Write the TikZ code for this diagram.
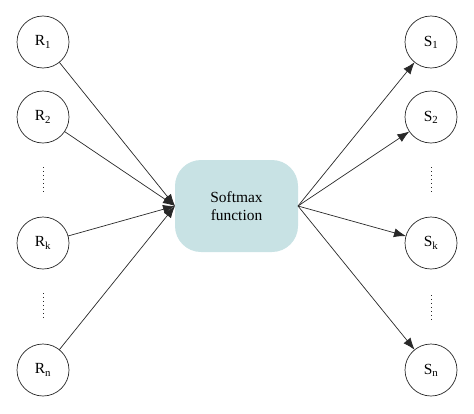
\documentclass[tikz,border=0pt]{standalone}
\usepackage{fontspec}
\setmainfont{Liberation Serif}
\usepackage{amsmath, amssymb}
\usepackage{tkz-graph}
\usetikzlibrary{arrows.meta}
\usetikzlibrary{shapes}
\definecolor{softFill}{RGB}{200,226,228}
\definecolor{lineGray}{RGB}{40,40,40}

\begin{document}
\begin{tikzpicture}[x = 1bp, y = 1bp]
	\useasboundingbox (0,0) rectangle (474,413);
	\tikzstyle{VertexStyle} = []
	\tikzstyle{EdgeStyle} = [draw = lineGray, line width = 0.7pt, -{Latex[length = 12bp, width = 9bp]}]
	\tikzstyle{unitStyle}=[shape = circle, minimum size = 52bp, inner sep = 0pt, draw = lineGray, line width = 0.7pt, font = \fontsize{15.5}{17.6}\selectfont]
	\tikzstyle{funcStyle}=[shape = rectangle, rounded corners = 26bp, minimum width = 123bp, minimum height = 92bp, fill = softFill, align = center, font = \fontsize{15.5}{17.6}\selectfont]
	\tikzstyle{gapStyle}=[draw = lineGray, line width = 0.5pt, dash pattern = on 0.8pt off 3.2pt]
	\Vertex[style = unitStyle, x = 43, y = 371, L = {R\textsubscript{1}}]{r1}
	\Vertex[style = unitStyle, x = 43, y = 296, L = {R\textsubscript{2}}]{r2}
	\Vertex[style = unitStyle, x = 43, y = 170, L = {R\textsubscript{k}}]{rk}
	\Vertex[style = unitStyle, x = 43, y = 43, L = {R\textsubscript{n}}]{rn}
	\Vertex[style = unitStyle, x = 431, y = 371, L = {S\textsubscript{1}}]{s1}
	\Vertex[style = unitStyle, x = 431, y = 296, L = {S\textsubscript{2}}]{s2}
	\Vertex[style = unitStyle, x = 431, y = 170, L = {S\textsubscript{k}}]{sk}
	\Vertex[style = unitStyle, x = 431, y = 43, L = {S\textsubscript{n}}]{sn}
	\Vertex[style = funcStyle, x = 236.5, y = 207, L = {Softmax\\function}]{sm}
	% elided units
	\draw[gapStyle] (43,246) -- (43,220);
	\draw[gapStyle] (43,120) -- (43,93);
	\draw[gapStyle] (431,246) -- (431,220);
	\draw[gapStyle] (431,118) -- (431,93);
	\Edge(r1)(sm.west)
	\Edge(r2)(sm.west)
	\Edge(rk)(sm.west)
	\Edge(rn)(sm.west)
	\Edge(sm.east)(s1)
	\Edge(sm.east)(s2)
	\Edge(sm.east)(sk)
	\Edge(sm.east)(sn)
\end{tikzpicture}
\end{document}
